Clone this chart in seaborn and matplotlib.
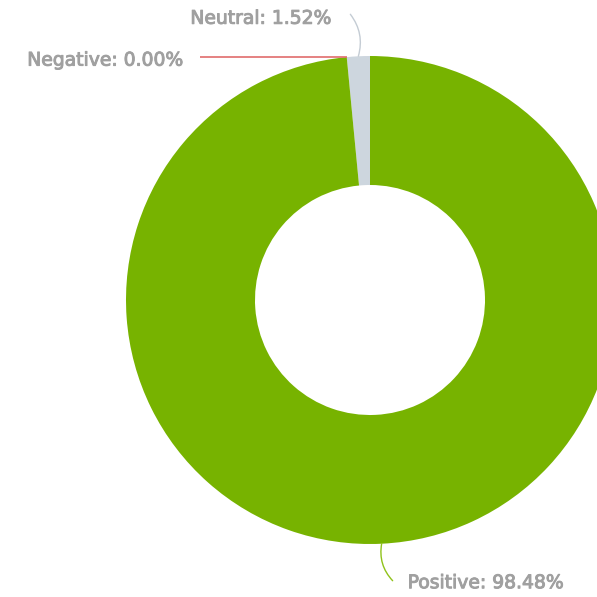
import numpy as np
import matplotlib
matplotlib.use("Agg")
import matplotlib.pyplot as plt
import matplotlib.patheffects as pe
import seaborn as sns

# Sentiment shares (percent)
categories = ["Neutral", "Negative", "Positive"]
shares = [1.52, 0.00, 98.48]
colors = ["#cdd6de", "#e06c6c", "#77b300"]

sns.set_theme(style="white")
plt.rcParams["font.family"] = ["DejaVu Sans"]

W = H = 597
fig = plt.figure(figsize=(W / 100, H / 100), dpi=100)
ax = fig.add_axes([0, 0, 1, 1])

cx, cy = 370, 597 - 300
R_out, R_in = 244, 115

wedges, _ = ax.pie(
    shares, colors=colors, startangle=90, counterclock=True,
    center=(cx, cy), radius=R_out, frame=True,
    wedgeprops=dict(width=R_out - R_in, linewidth=0),
)
ax.set_xlim(0, W)
ax.set_ylim(0, H)
ax.set_aspect("equal")
ax.axis("off")

label_color = "#a0a0a0"
fs = 13.5
thick = [pe.withStroke(linewidth=0.7, foreground=label_color)]

# angle along the ring for each slice
angles = []
start = 90.0
for s in shares:
    span = s / 100 * 360
    angles.append((start, start + span))
    start += span

def ring_point(theta_deg):
    t = np.deg2rad(theta_deg)
    return cx + R_out * np.cos(t), cy + R_out * np.sin(t)

# Neutral label: curved leader rising above the slice
a0, a1 = angles[0]
px, py = ring_point((a0 + a1) / 2)
ax.annotate("", xy=(px, py), xytext=(px - 8, py + 42),
            arrowprops=dict(arrowstyle="-", color="#c4ccd4", lw=1,
                            connectionstyle="arc3,rad=-0.25", shrinkA=0, shrinkB=0))
ax.text(px - 27, py + 38, f"{categories[0]}: {shares[0]:.2f}%", ha="right",
        va="center", color=label_color, fontsize=fs, path_effects=thick)

# Negative label: straight red leader to the zero-width slice
nx, ny = ring_point(angles[1][0])
ax.plot([nx, 200], [ny, ny], color=colors[1], lw=1.2, solid_capstyle="butt")
ax.text(183, ny - 3, f"{categories[1]}: {shares[1]:.2f}%", ha="right",
        va="center", color=label_color, fontsize=fs, path_effects=thick)

# Positive label: leader dropping below the ring
b0, b1 = angles[2]
qx, qy = ring_point((b0 + b1) / 2)
ax.annotate("", xy=(qx, qy), xytext=(qx + 11, qy - 37),
            arrowprops=dict(arrowstyle="-", color="#8fc21a", lw=1,
                            connectionstyle="arc3,rad=-0.25", shrinkA=0, shrinkB=0))
ax.text(qx + 26, qy - 39, f"{categories[2]}: {shares[2]:.2f}%", ha="left",
        va="center", color=label_color, fontsize=fs, path_effects=thick)

fig.savefig("out.png", dpi=100, facecolor="white")
